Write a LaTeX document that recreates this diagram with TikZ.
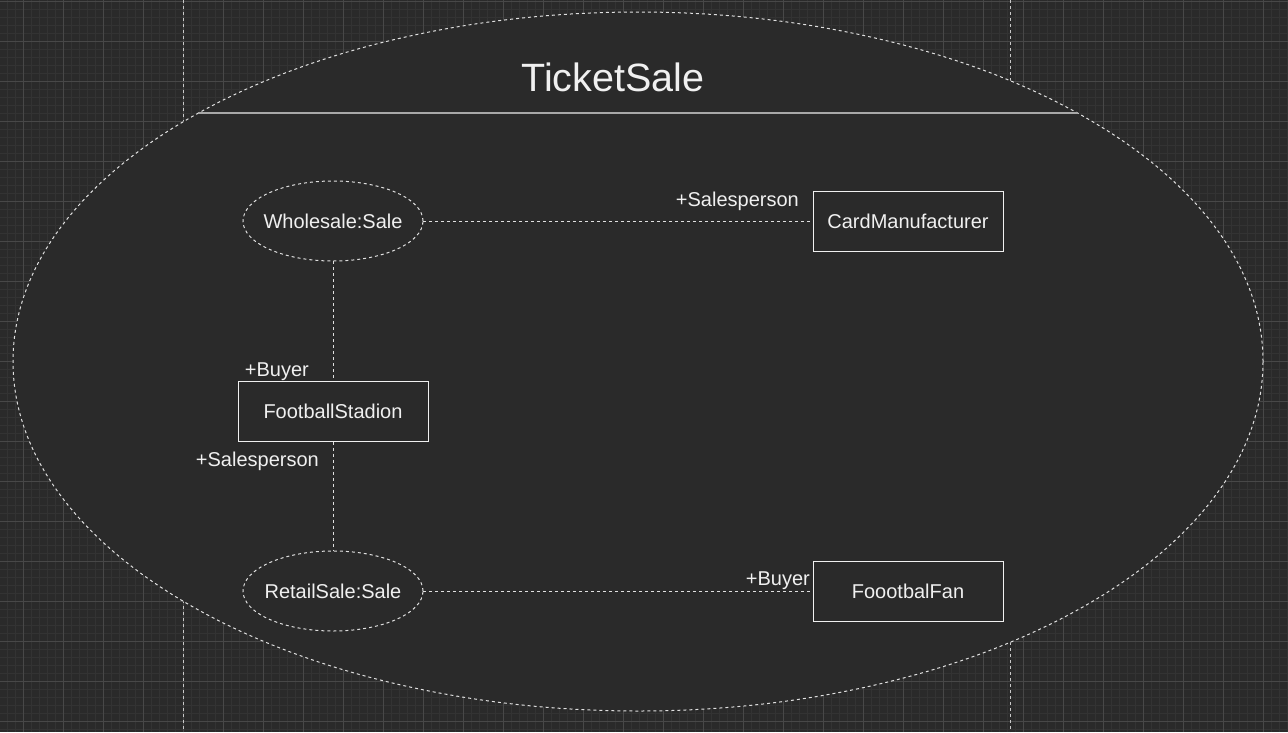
\documentclass[tikz,border=0pt]{standalone}
\usepackage{fontspec}
\setmainfont{Liberation Sans}
\usetikzlibrary{shapes.geometric}
\definecolor{bg}{HTML}{2A2A2A}
\definecolor{minorg}{HTML}{333333}
\definecolor{majorg}{HTML}{484848}
\definecolor{fg}{HTML}{F0F0F0}
\definecolor{dashc}{HTML}{E0E0E0}
\definecolor{pagebrk}{HTML}{C8C8C8}
\definecolor{sepc}{HTML}{A8A8A8}
\begin{document}
\begin{tikzpicture}[x=1pt,y=-1pt,
  txt/.style={text=fg,font=\fontsize{20}{24}\selectfont},
  classbox/.style={txt,draw=fg,line width=1pt,minimum width=190pt,minimum height=60pt,inner sep=0pt},
  objell/.style={txt,ellipse,draw=dashc,dash pattern=on 3pt off 3pt,line width=1pt,minimum width=180pt,minimum height=80pt,inner sep=0pt,outer sep=0pt},
  conn/.style={draw=dashc,line width=1pt,dash pattern=on 3pt off 3pt},
  lbl/.style={txt,inner sep=0pt},
  gridminor/.style={draw=minorg,line width=1pt},
  gridmajor/.style={draw=majorg,line width=1pt},
  pagebreak/.style={draw=pagebrk,line width=1pt,dash pattern=on 3pt off 3pt},
]
\fill[bg] (0,0) rectangle (1288,732);
\useasboundingbox (0,0) rectangle (1288,732);
% grid
\foreach \i in {0,...,160} {\draw[gridminor] ({7.3+8*\i},0) -- ({7.3+8*\i},732);}
\foreach \j in {0,...,91} {\draw[gridminor] (0,{1+8*\j}) -- (1288,{1+8*\j});}
\foreach \i in {0,...,31} {\draw[gridmajor] ({23.3+40*\i},0) -- ({23.3+40*\i},732);}
\foreach \j in {0,...,18} {\draw[gridmajor] (0,{1+40*\j}) -- (1288,{1+40*\j});}
% page breaks
\draw[pagebreak] (183.3,0) -- (183.3,732);
\draw[pagebreak] (1010.3,0) -- (1010.3,732);
% container
\node[ellipse,draw=dashc,fill=bg,dash pattern=on 3pt off 3pt,line width=1pt,
      minimum width=1250pt,minimum height=699pt,inner sep=0pt] (ticketsale) at (638,361.5) {};
\node[txt,font=\fontsize{39.5}{44}\selectfont] (title) at (613,77) {TicketSale};
\draw[sepc,line width=2pt] (198,113) -- (1078,113);
% nodes
\node[objell] (ws) at (333,221) {\makebox[0pt]{Wholesale:Sale}};
\node[classbox] (cm) at (908,221) {CardManufacturer};
\node[classbox] (fs) at (333,411) {FootballStadion};
\node[objell] (rs) at (333,591) {\makebox[0pt]{RetailSale:Sale}};
\node[classbox] (ff) at (908,591) {FoootbalFan};
% connectors
\draw[conn] (ws) -- (cm);
\draw[conn] (ws) -- (fs);
\draw[conn] (fs) -- (rs);
\draw[conn] (rs) -- (ff);
% role labels
\node[lbl,anchor=base east] (l1) at (799,206) {+Salesperson};
\node[lbl,anchor=base east] (l2) at (309,376) {+Buyer};
\node[lbl,anchor=base east] (l3) at (319,466) {+Salesperson};
\node[lbl,anchor=base east] (l4) at (810,585.7) {+Buyer};
\end{tikzpicture}
\end{document}
